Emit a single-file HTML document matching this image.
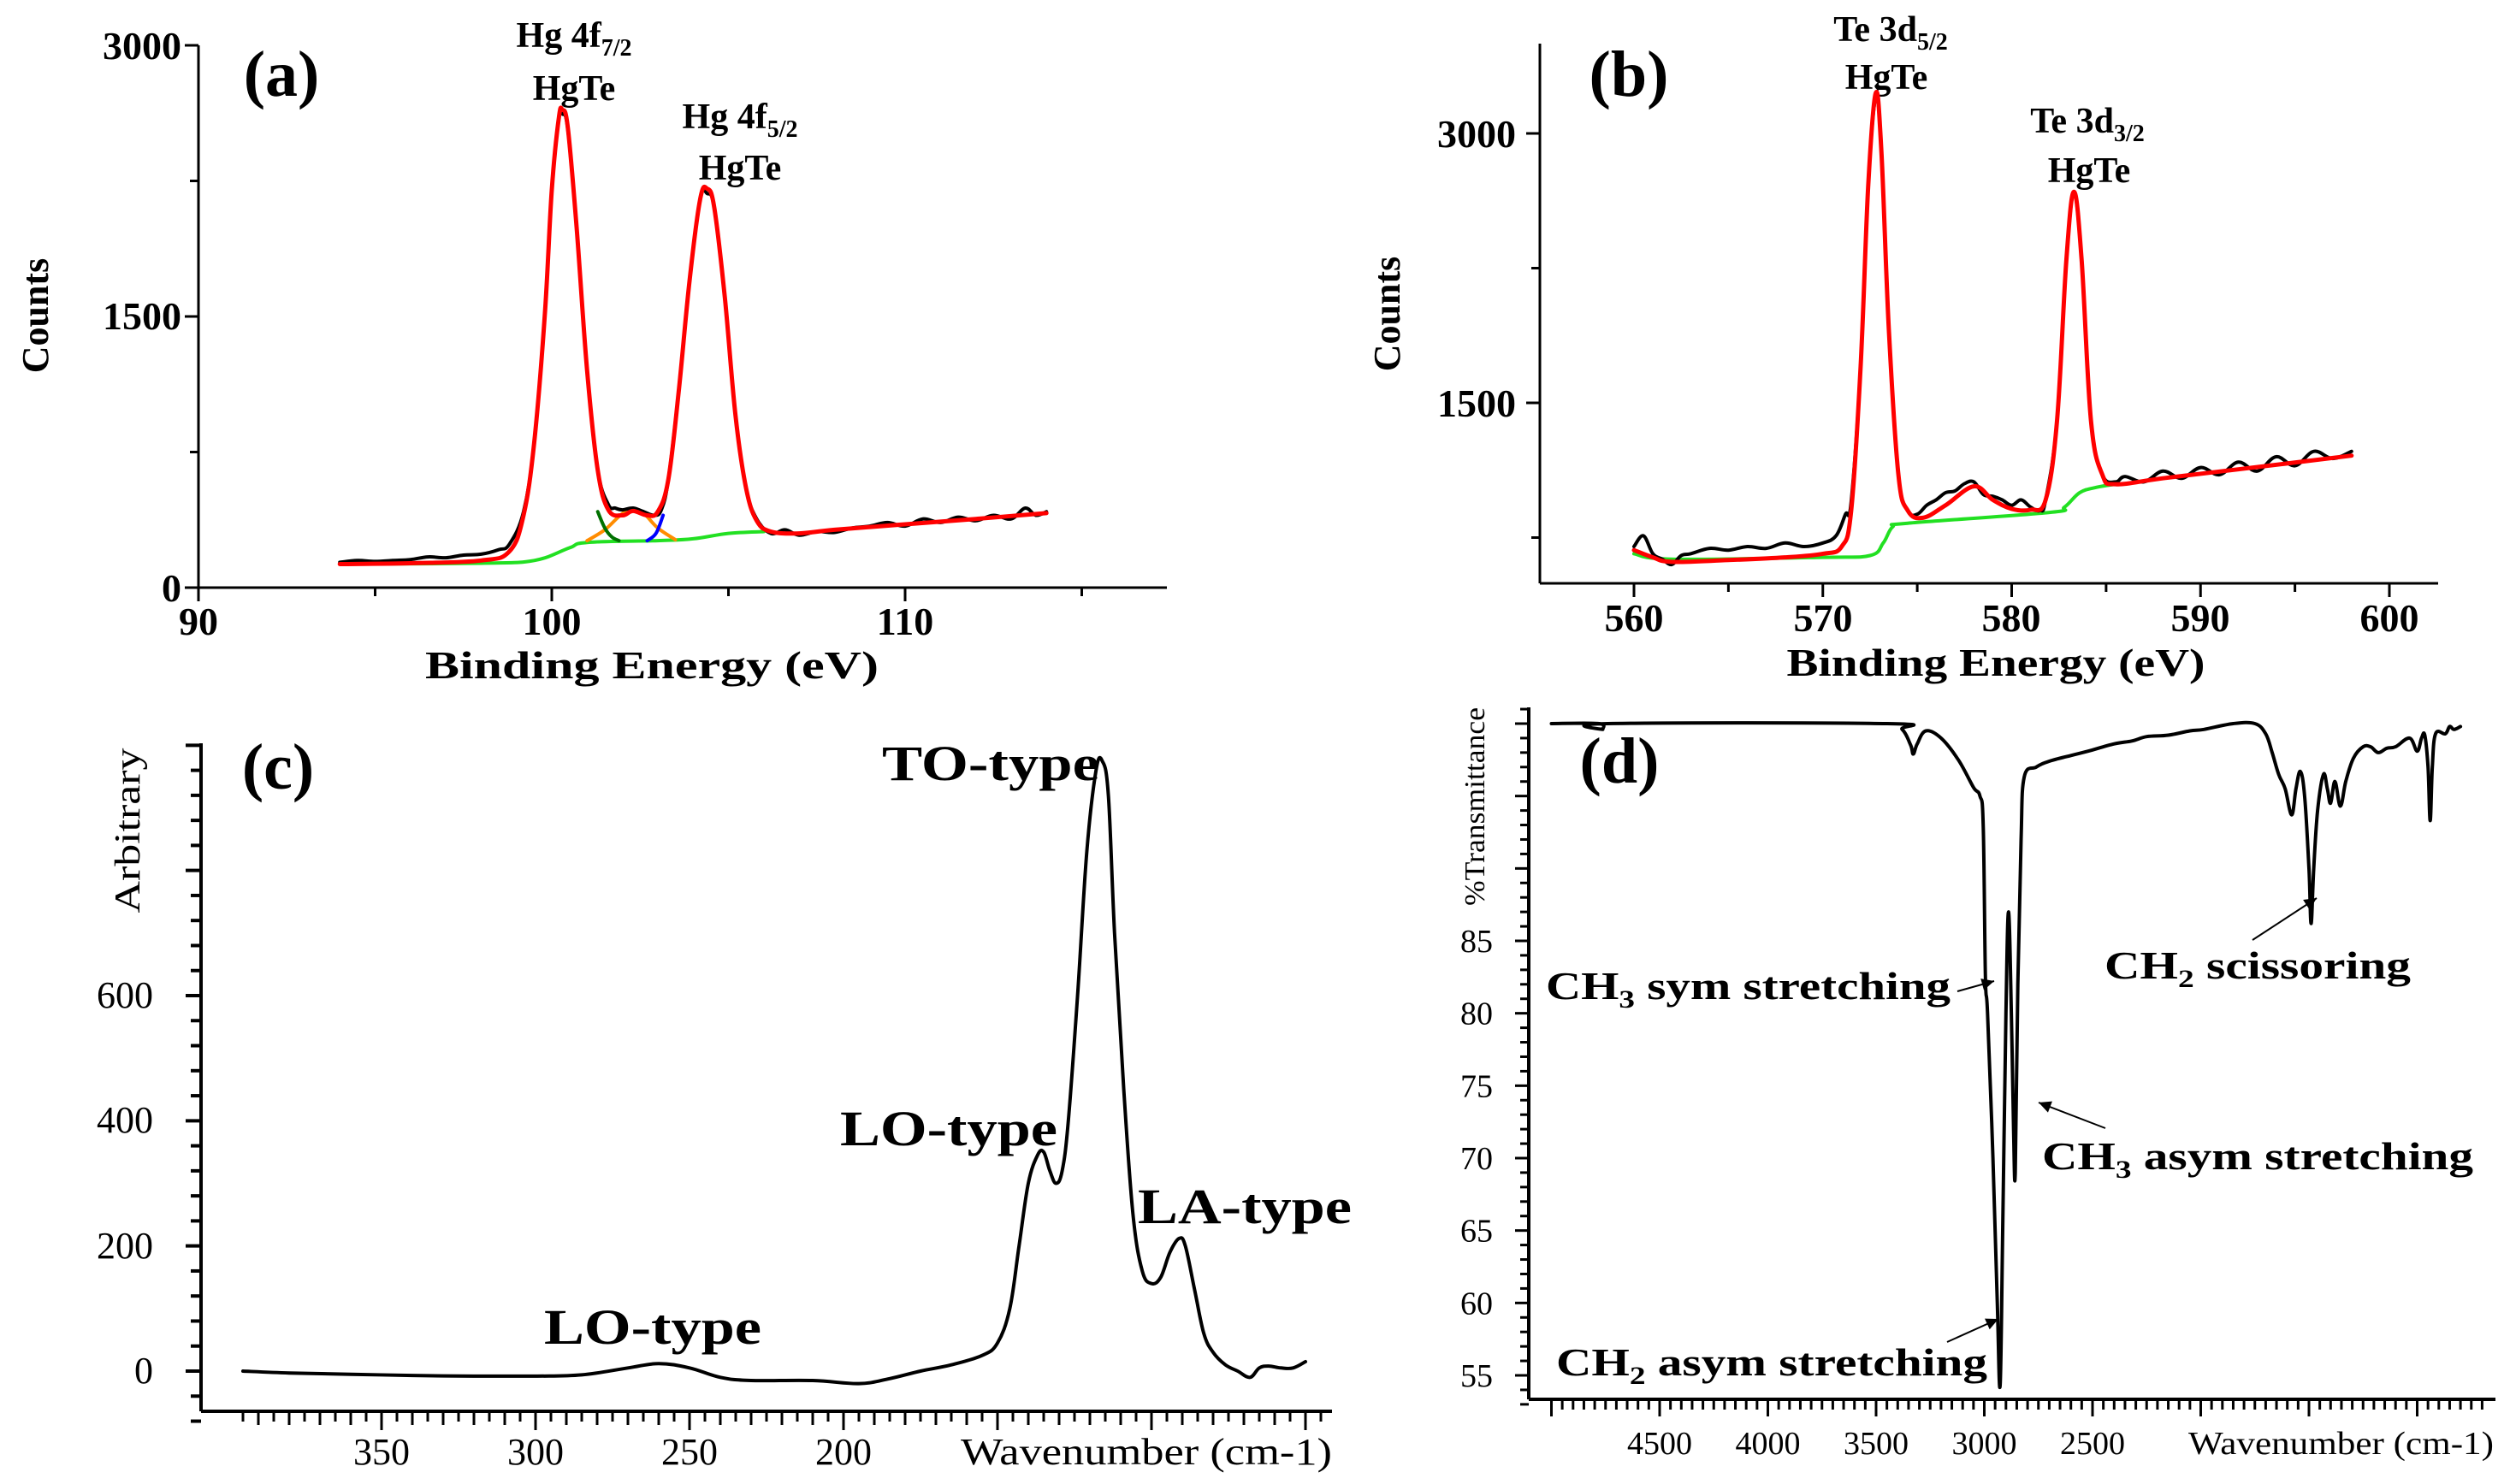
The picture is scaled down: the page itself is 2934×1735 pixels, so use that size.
<!DOCTYPE html>
<html><head><meta charset="utf-8"><style>
html,body{margin:0;padding:0;background:#fff;}
svg{display:block;font-family:"Liberation Serif",serif;}
.b{font-weight:bold;}
</style></head><body>
<svg id="fig" width="2934" height="1735" viewBox="0 0 2934 1735" xmlns="http://www.w3.org/2000/svg">
<rect width="2934" height="1735" fill="#fff"/>
<g id="pa">
 <line x1="232" y1="53" x2="232" y2="687" stroke="#000" stroke-width="3"/>
 <line x1="232" y1="687" x2="1364" y2="687" stroke="#000" stroke-width="3"/>
 <g class="b" font-size="46" text-anchor="end">
  <text x="212" y="69">3000</text><text x="212" y="385">1500</text><text x="212" y="703">0</text>
 </g>
 <g class="b" font-size="46" text-anchor="middle">
  <text x="232" y="742">90</text><text x="645" y="742">100</text><text x="1058" y="742">110</text>
 </g>
 <text class="b" font-size="44" text-anchor="middle" transform="translate(56,369) rotate(-90)">Counts</text>
 <text class="b" font-size="46" x="762" y="793" text-anchor="middle" textLength="530" lengthAdjust="spacingAndGlyphs">Binding Energy (eV)</text>
 <text class="b" font-size="76" x="329" y="112" text-anchor="middle">(a)</text>
 <text class="b" font-size="42" x="671" y="55" text-anchor="middle">Hg 4f<tspan font-size="28" dy="10">7/2</tspan></text>
 <text class="b" font-size="42" x="671" y="117" text-anchor="middle">HgTe</text>
 <text class="b" font-size="42" x="865" y="150" text-anchor="middle">Hg 4f<tspan font-size="28" dy="10">5/2</tspan></text>
 <text class="b" font-size="42" x="865" y="210" text-anchor="middle">HgTe</text>
</g>
<g id="pb">
 <line x1="1800" y1="51" x2="1800" y2="682" stroke="#000" stroke-width="3"/>
 <line x1="1800" y1="682" x2="2850" y2="682" stroke="#000" stroke-width="3"/>
 <g class="b" font-size="46" text-anchor="end">
  <text x="1772" y="172">3000</text><text x="1772" y="487">1500</text>
 </g>
 <g class="b" font-size="46" text-anchor="middle">
  <text x="1910" y="738">560</text><text x="2131" y="738">570</text><text x="2351" y="738">580</text><text x="2572" y="738">590</text><text x="2793" y="738">600</text>
 </g>
 <text class="b" font-size="44" text-anchor="middle" transform="translate(1636,367) rotate(-90)">Counts</text>
 <text class="b" font-size="46" x="2333" y="790" text-anchor="middle" textLength="489" lengthAdjust="spacingAndGlyphs">Binding Energy (eV)</text>
 <text class="b" font-size="76" x="1904" y="112" text-anchor="middle">(b)</text>
 <text class="b" font-size="42" x="2210" y="48" text-anchor="middle">Te 3d<tspan font-size="28" dy="10">5/2</tspan></text>
 <text class="b" font-size="42" x="2205" y="104" text-anchor="middle">HgTe</text>
 <text class="b" font-size="42" x="2440" y="155" text-anchor="middle">Te 3d<tspan font-size="28" dy="10">3/2</tspan></text>
 <text class="b" font-size="42" x="2442" y="213" text-anchor="middle">HgTe</text>
</g>
<g id="pc">
 <line x1="235" y1="869" x2="235" y2="1650" stroke="#000" stroke-width="4"/>
 <line x1="235" y1="1650" x2="1557" y2="1650" stroke="#000" stroke-width="4"/>
 <g font-size="44" text-anchor="end">
  <text x="179" y="1617">0</text><text x="179" y="1471">200</text><text x="179" y="1324">400</text><text x="179" y="1178">600</text>
 </g>
 <g font-size="44" text-anchor="middle">
  <text x="446" y="1712">350</text><text x="626" y="1712">300</text><text x="806" y="1712">250</text><text x="986" y="1712">200</text>
 </g>
 <text font-size="44" x="1123" y="1712" textLength="434" lengthAdjust="spacingAndGlyphs">Wavenumber (cm-1)</text>
 <text font-size="42" text-anchor="middle" transform="translate(163,971) rotate(-90)" textLength="193" lengthAdjust="spacingAndGlyphs">Arbitrary</text>
 <text class="b" font-size="76" x="325" y="922" text-anchor="middle">(c)</text>
 <text class="b" font-size="58" x="1158" y="912" text-anchor="middle" textLength="254" lengthAdjust="spacingAndGlyphs">TO-type</text>
 <text class="b" font-size="58" x="1109" y="1339" text-anchor="middle" textLength="254" lengthAdjust="spacingAndGlyphs">LO-type</text>
 <text class="b" font-size="58" x="1455" y="1430" text-anchor="middle" textLength="250" lengthAdjust="spacingAndGlyphs">LA-type</text>
 <text class="b" font-size="58" x="763" y="1571" text-anchor="middle" textLength="254" lengthAdjust="spacingAndGlyphs">LO-type</text>
</g>
<g id="pd">
 <line x1="1787" y1="827" x2="1787" y2="1636" stroke="#000" stroke-width="4"/>
 <line x1="1787" y1="1636" x2="2917" y2="1636" stroke="#000" stroke-width="4"/>
 <text font-size="34" text-anchor="middle" transform="translate(1735,943) rotate(-90)" textLength="232" lengthAdjust="spacingAndGlyphs">%Transmittance</text>
 <text font-size="38" x="2558" y="1700" textLength="357" lengthAdjust="spacingAndGlyphs">Wavenumber (cm-1)</text>
 <text class="b" font-size="76" x="1893" y="915" text-anchor="middle">(d)</text>
 <text class="b" font-size="46" x="1807" y="1168" textLength="473" lengthAdjust="spacingAndGlyphs">CH<tspan font-size="30" dy="10">3</tspan><tspan dy="-10"> sym stretching</tspan></text>
 <text class="b" font-size="46" x="2387" y="1367" textLength="504" lengthAdjust="spacingAndGlyphs">CH<tspan font-size="30" dy="10">3</tspan><tspan dy="-10"> asym stretching</tspan></text>
 <text class="b" font-size="46" x="2460" y="1144" textLength="358" lengthAdjust="spacingAndGlyphs">CH<tspan font-size="30" dy="10">2</tspan><tspan dy="-10"> scissoring</tspan></text>
 <text class="b" font-size="46" x="1819" y="1608" textLength="504" lengthAdjust="spacingAndGlyphs">CH<tspan font-size="30" dy="10">2</tspan><tspan dy="-10"> asym stretching</tspan></text>
</g>
</svg>
<script>
// ---------- data ----------
const aFitX = [94,96,98,98.8,99.2,99.5,99.8,100.0,100.2,100.3,100.45,100.7,101.0,101.3,101.6,102.0,102.3,102.7,103.0,103.3,103.6,103.9,104.2,104.4,104.6,104.9,105.2,105.5,105.8,106.2,107,108,110,112,114];
const aFitY = [130,135,150,200,400,800,1500,2200,2600,2643,2550,2000,1200,650,430,400,424,400,420,600,1100,1700,2150,2207,2100,1600,950,550,370,310,300,320,350,380,412];
const aDataX = [94,94.5,95,95.5,96,96.5,97,97.5,98,98.5,98.8,99.2,99.5,99.8,100,100.2,100.3,100.45,100.7,101,101.3,101.6,101.8,102,102.3,102.6,102.9,103.1,103.3,103.6,103.9,104.2,104.4,104.6,104.9,105.2,105.5,105.8,106.2,106.6,107,107.5,108,108.5,109,109.5,110,110.5,111,111.5,112,112.5,113,113.4,113.7,114];
const aDataY = [140,150,145,150,155,170,165,180,185,210,240,420,800,1500,2200,2600,2620,2540,2000,1200,650,460,440,430,440,420,400,430,600,1100,1700,2150,2180,2100,1600,950,550,380,300,320,290,310,305,330,340,360,340,380,360,390,370,400,380,440,400,420];
const aBgX = [94,98,99.5,100.5,101,103,104,105,106];
const aBgY = [130,135,150,220,250,260,270,300,310];
const aComp2X = [101,101.5,102,102.3,102.6,103,103.5];
const aComp2Y = [260,320,410,424,410,330,265];
const aTail1X = [101.3,101.5,101.7,101.9];
const aTail1Y = [420,330,280,260];
const aTail2X = [102.7,102.95,103.15];
const aTail2Y = [260,300,400];

const bFitX = [560,561,562,565,568,570,571,571.5,572,572.4,572.8,573.1,573.5,574,574.5,575.3,576.5,578,579,580,581,581.8,582.4,582.9,583.3,583.7,584.2,584.8,585.5,588,592,598];
const bFitY = [680,640,615,625,640,660,700,900,1700,2700,3225,2900,1900,1100,900,860,930,1035,960,910,905,960,1400,2300,2675,2300,1400,1100,1047,1080,1130,1206];
const bDataX = [560,560.5,561,561.5,562,562.5,563,564,565,566,567,568,569,570,570.7,571.2,571.5,572,572.4,572.8,573.1,573.5,574,574.5,575,575.5,576,576.5,577,577.5,578,578.5,579,579.5,580,580.5,581,581.5,581.8,582.4,582.9,583.3,583.7,584.2,584.8,585.5,586,587,588,589,590,591,592,593,594,595,596,597,598];
const bDataY = [700,760,660,630,600,650,660,690,680,700,690,720,700,720,760,880,950,1700,2700,3200,2900,1900,1100,900,880,930,960,1000,1010,1050,1060,990,980,960,930,960,920,900,960,1400,2300,2650,2300,1400,1100,1060,1090,1060,1120,1080,1140,1100,1170,1120,1200,1150,1230,1190,1230];
const bBgX = [560,562,570,572.5,573.2,573.7,574.5,582,582.8,583.6,584.5,585.5];
const bBgY = [660,630,640,650,720,810,830,890,920,1000,1030,1047];

const cX = [395,380,360,340,320,300,285,270,260,250,240,230,210,195,185,175,165,155,150,146,143,140,137,135,133,131,129,127,124,121,118,116,114,112,109,106,103,100,97,94,91,89,86,83,80,76,72,68,65,62,58,54,50];
const cY = [0,-3,-5,-7,-8,-8,-6,5,12,5,-10,-15,-15,-20,-12,0,10,25,45,100,200,300,345,350,320,300,320,400,600,830,960,975,920,700,450,250,160,140,150,190,212,200,130,60,30,10,0,-10,5,8,5,5,15];

const dX = [5000,4780,4763,4740,3450,3380,3340,3328,3310,3270,3200,3120,3050,3020,3005,2995,2985,2960,2940,2927,2915,2900,2888,2875,2865,2857,2845,2830,2816,2760,2700,2600,2520,2400,2318,2250,2150,2050,1985,1850,1750,1700,1670,1640,1610,1580,1560,1540,1520,1500,1490,1478,1460,1433,1415,1400,1380,1355,1330,1295,1250,1215,1180,1140,1100,1035,1000,980,965,950,940,930,915,870,850,830,800];
const dY = [100,100,99.6,100,100,99.6,98.5,97.9,98.6,99.5,99,97.5,95.6,95,93,82.5,80,70,60,54.3,65,80,87,80,72,69,82,92,96.3,97,97.4,97.8,98.1,98.6,98.8,99.1,99.2,99.5,99.6,100,100,99.3,98,96.5,95.5,93.7,95.5,96.7,95,90,86.2,90,94,96.5,95.5,94.5,96,94.3,96,97.6,98.4,98.4,98.0,98.3,98.4,99,98.1,99,99.2,97,93.3,97,99.3,99.3,99.8,99.6,99.8];

// ---------- helpers ----------
const NS = "http://www.w3.org/2000/svg";
function lin(d0,d1,r0,r1){return v=>r0+(v-d0)*(r1-r0)/(d1-d0);}
function smooth(xs,ys,sx,sy){
  const p = xs.map((x,i)=>[sx(x),sy(ys[i])]);
  let d = "M"+p[0][0].toFixed(1)+","+p[0][1].toFixed(1);
  for(let i=0;i<p.length-1;i++){
    const p0=p[Math.max(0,i-1)],p1=p[i],p2=p[i+1],p3=p[Math.min(p.length-1,i+2)];
    const t=0.18;
    const c1=[p1[0]+(p2[0]-p0[0])*t,p1[1]+(p2[1]-p0[1])*t];
    const c2=[p2[0]-(p3[0]-p1[0])*t,p2[1]-(p3[1]-p1[1])*t];
    d+=" C"+c1[0].toFixed(1)+","+c1[1].toFixed(1)+" "+c2[0].toFixed(1)+","+c2[1].toFixed(1)+" "+p2[0].toFixed(1)+","+p2[1].toFixed(1);
  }
  return d;
}
function mkPath(parent,d,color,w){
  const el=document.createElementNS(NS,'path');
  el.setAttribute('d',d);el.setAttribute('fill','none');el.setAttribute('stroke',color);
  el.setAttribute('stroke-width',w);el.setAttribute('stroke-linejoin','round');el.setAttribute('stroke-linecap','round');
  parent.appendChild(el);return el;
}
function mkLine(parent,x1,y1,x2,y2,w){
  const el=document.createElementNS(NS,'line');
  el.setAttribute('x1',x1);el.setAttribute('y1',y1);el.setAttribute('x2',x2);el.setAttribute('y2',y2);
  el.setAttribute('stroke','#000');el.setAttribute('stroke-width',w);
  parent.appendChild(el);return el;
}

// ---------- panel a ----------
const pa=document.getElementById('pa');
const axA=lin(90,110,232,1058), ayA=lin(0,3000,687,53);
[90,95,100,105,110,115].forEach((v,i)=>{const t=mkLine(pa,axA(v),687,axA(v),687+(i%2?10:16),3);

});
[0,750,1500,2250,3000].forEach((v,i)=>{const t=mkLine(pa,232,ayA(v),232-(i%2?10:16),ayA(v),3);

});
let e;
e=mkPath(pa,smooth(aBgX,aBgY,axA,ayA),'#22e022',4);


e=mkPath(pa,smooth(aComp2X,aComp2Y,axA,ayA),'#ff8c00',4);


e=mkPath(pa,smooth(aTail1X,aTail1Y,axA,ayA),'#007000',4);


e=mkPath(pa,smooth(aTail2X,aTail2Y,axA,ayA),'#0000ff',4);


e=mkPath(pa,smooth(aDataX,aDataY,axA,ayA),'#000',4);


e=mkPath(pa,smooth(aFitX,aFitY,axA,ayA),'#ff0000',5);



// ---------- panel b ----------
const pb=document.getElementById('pb');
const axB=lin(560,600,1910,2793), ayB=lin(0,3000,786,156);
[560,565,570,575,580,585,590,595,600].forEach((v,i)=>{const t=mkLine(pb,axB(v),682,axB(v),682+(i%2?10:16),3);

});
[750,1500,2250,3000].forEach((v,i)=>{const t=mkLine(pb,1800,ayB(v),1800-(i%2?16:10),ayB(v),3);

});
e=mkPath(pb,smooth(bBgX,bBgY,axB,ayB),'#22e022',4);


e=mkPath(pb,smooth(bDataX,bDataY,axB,ayB),'#000',4);


e=mkPath(pb,smooth(bFitX,bFitY,axB,ayB),'#ff0000',5);



// ---------- panel c ----------
const pc=document.getElementById('pc');
const axC=lin(350,200,446,986), ayC=lin(0,600,1603,1164);
for(let v=-80;v<=1000;v+=40){const t=mkLine(pc,235,ayC(v),235-(v%200===0?18:12),ayC(v),4);

}
for(let v=395;v>=45;v-=5){const t=mkLine(pc,axC(v),1650,axC(v),1650+(v%50===0?22:(v%10===0?16:12)),3);

}
e=mkPath(pc,smooth(cX,cY,axC,ayC),'#000',4);



// ---------- panel d ----------
const pd=document.getElementById('pd');
const axD=lin(4500,2500,1940,2446), ayD=lin(85,55,1100,1608);
for(let v=53;v<=101;v+=1){const t=mkLine(pd,1787,ayD(v),1787-(v%5===0?16:10),ayD(v),3);

}
for(let v=5000;v>=700;v-=50){const t=mkLine(pd,axD(v),1636,axD(v),1636+(v%500===0?20:12),3);

}
const dYTicks=[85,80,75,70,65,60,55];
dYTicks.forEach(v=>{const t=document.createElementNS(NS,'text');
t.setAttribute('x',1745);t.setAttribute('y',ayD(v)+13);t.setAttribute('font-size',38);t.setAttribute('text-anchor','end');
t.textContent=v;


pd.appendChild(t);});
const dXTicks=[4500,4000,3500,3000,2500];
dXTicks.forEach(v=>{const t=document.createElementNS(NS,'text');
t.setAttribute('x',axD(v));t.setAttribute('y',1700);t.setAttribute('font-size',38);t.setAttribute('text-anchor','middle');
t.textContent=v;


pd.appendChild(t);});
e=mkPath(pd,smooth(dX,dY,axD,ayD),'#000',4);


const arrows=[[2288,1159,2331,1147],[2461,1319,2383,1289],[2633,1099,2708,1050],[2276,1569,2336,1542]];
arrows.forEach(a=>{const l=mkLine(pd,a[0],a[1],a[2],a[3],2);


const ang=Math.atan2(a[3]-a[1],a[2]-a[0]);const h=document.createElementNS(NS,'path');
const L=16,W=0.45;
h.setAttribute('d',`M${a[2]},${a[3]} L${a[2]-L*Math.cos(ang-W)},${a[3]-L*Math.sin(ang-W)} L${a[2]-L*Math.cos(ang+W)},${a[3]-L*Math.sin(ang+W)} Z`);
h.setAttribute('fill','#000');


pd.appendChild(h);});
</script>
</body></html>
